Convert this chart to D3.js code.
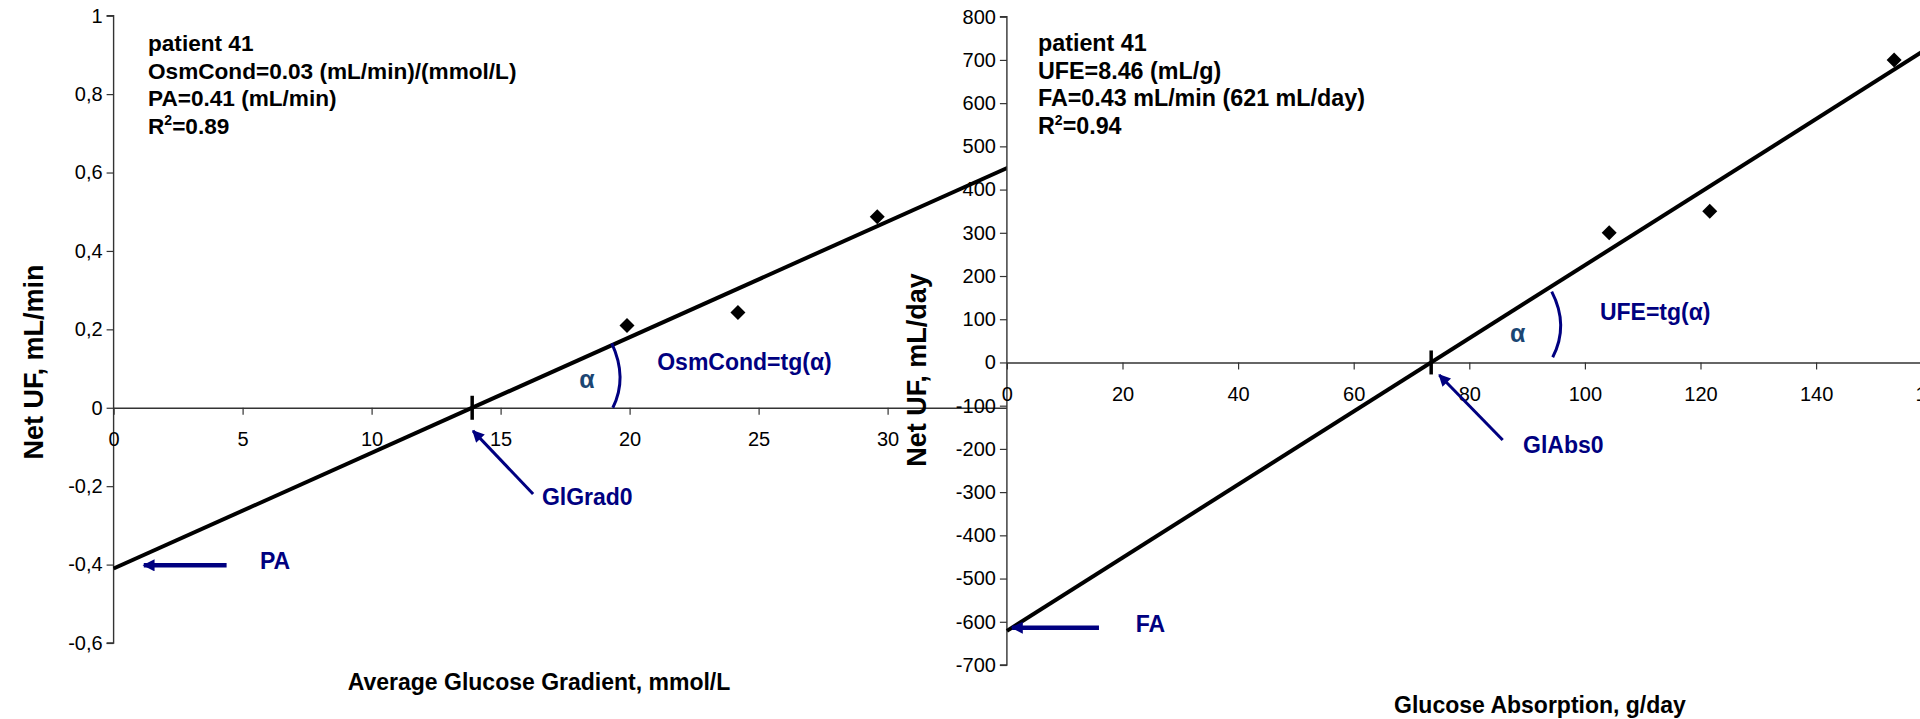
<!DOCTYPE html>
<html>
<head>
<meta charset="utf-8">
<script src="https://cdn.jsdelivr.net/npm/d3@7"></script>
<style>
  body { margin: 0; background: #fff; }
  svg text { font-family: "Liberation Sans", Arial, sans-serif; }
</style>
</head>
<body>
<svg id="chart" width="1920" height="719"></svg>
<script>
// left panel: net UF vs average glucose gradient
const gradX = [19.9, 24.2, 29.6];
const gradUF = [0.21, 0.243, 0.487];
const gradTicksX = [0, 5, 10, 15, 20, 25, 30, 35];
const gradTicksY = [-0.6, -0.4, -0.2, 0, 0.2, 0.4, 0.6, 0.8, 1];
const gradSlope = 0.0295;
const gradIntercept = -0.41;
const gradInfo = ['patient 41', 'OsmCond=0.03 (mL/min)/(mmol/L)', 'PA=0.41 (mL/min)', 'R2=0.89'];

// right panel: net UF vs glucose absorption
const absX = [104.2, 121.6, 153.5];
const absUF = [300, 350, 700];
const absTicksX = [0, 20, 40, 60, 80, 100, 120, 140, 160];
const absTicksY = [-700, -600, -500, -400, -300, -200, -100, 0, 100, 200, 300, 400, 500, 600, 700, 800];
const absSlope = 8.46;
const absIntercept = -621;
const absInfo = ['patient 41', 'UFE=8.46 (mL/g)', 'FA=0.43 mL/min (621 mL/day)', 'R2=0.94'];

const navy = '#000080';
const svg = d3.select('#chart');

const defs = svg.append('defs');
defs.append('marker')
  .attr('id', 'head')
  .attr('viewBox', '0 0 10 10')
  .attr('refX', 9).attr('refY', 5)
  .attr('markerWidth', 13).attr('markerHeight', 12)
  .attr('markerUnits', 'userSpaceOnUse')
  .attr('orient', 'auto')
  .append('path')
  .attr('d', 'M0,0L10,5L0,10Z')
  .attr('fill', navy);

function diamond(s) {
  return `M0,${-s}L${s},0L0,${s}L${-s},0Z`;
}

function drawPanel(p) {
  const g = svg.append('g');
  const x = d3.scaleLinear().domain(p.xDomain).range(p.xRange);
  const y = d3.scaleLinear().domain(p.yDomain).range(p.yRange);

  if (p.cover) {
    g.append('rect')
      .attr('x', x(0)).attr('y', 0)
      .attr('width', 1920 - x(0)).attr('height', 719)
      .attr('fill', '#fff');
  }

  // y axis
  const yAxis = g.append('g')
    .attr('transform', `translate(${x(0)},0)`)
    .call(d3.axisLeft(y).tickValues(p.yTicks).tickSize(7).tickPadding(4).tickFormat(p.fmtY));
  // x axis through zero
  const xAxis = g.append('g')
    .attr('transform', `translate(0,${y(0)})`)
    .call(d3.axisBottom(x).tickValues(p.xTicks).tickSize(7).tickPadding(17).tickSizeOuter(0));
  [yAxis, xAxis].forEach(a => {
    a.select('.domain').attr('stroke', '#333').attr('stroke-width', 1.4);
    a.selectAll('.tick line').attr('stroke', '#333').attr('stroke-width', 1.2);
    a.selectAll('text').attr('font-size', 20).attr('fill', '#000')
      .attr('font-family', '"Liberation Sans", Arial, sans-serif');
  });
  yAxis.select('.domain').attr('d', `M-7,${y(p.yDomain[1])}H0V${y(p.yDomain[0])}H-7`);

  // regression line
  const fitLine = d3.line().x(d => x(d)).y(d => y(p.slope * d + p.intercept));
  g.append('path')
    .attr('d', fitLine([0, p.xDomain[1]]))
    .attr('fill', 'none').attr('stroke', '#000').attr('stroke-width', 4);

  // zero crossing mark
  const x0 = -p.intercept / p.slope;
  g.append('line')
    .attr('x1', x(x0)).attr('x2', x(x0))
    .attr('y1', y(0) - 12).attr('y2', y(0) + 12)
    .attr('stroke', '#000').attr('stroke-width', 3.5);

  // data points
  g.selectAll('path.pt')
    .data(p.xs.map((v, i) => [v, p.ys[i]]))
    .join('path')
    .attr('class', 'pt')
    .attr('transform', d => `translate(${x(d[0])},${y(d[1])})`)
    .attr('d', diamond(7.5))
    .attr('fill', '#000');

  // angle arc
  const a = p.arc.map(d => [x(d[0]), y(d[1])]);
  const c = [2 * a[1][0] - (a[0][0] + a[2][0]) / 2, 2 * a[1][1] - (a[0][1] + a[2][1]) / 2];
  g.append('path')
    .attr('d', `M${a[0]}Q${c} ${a[2]}`)
    .attr('fill', 'none').attr('stroke', navy).attr('stroke-width', 3);

  g.append('text')
    .attr('x', x(p.alphaAt[0])).attr('y', y(p.alphaAt[1]))
    .attr('font-size', 25).attr('font-weight', 'bold').attr('fill', '#1b4673')
    .text('α');

  // arrows
  p.arrows.forEach(ar => {
    g.append('line')
      .attr('x1', x(ar.from[0])).attr('y1', y(ar.from[1]))
      .attr('x2', x(ar.to[0])).attr('y2', y(ar.to[1]))
      .attr('stroke', navy).attr('stroke-width', ar.w)
      .attr('marker-end', 'url(#head)');
  });

  // blue labels
  p.labels.forEach(l => {
    g.append('text')
      .attr('x', x(l.at[0])).attr('y', y(l.at[1]))
      .attr('font-size', 23).attr('font-weight', 'bold').attr('fill', navy)
      .text(l.text);
  });

  // info block
  p.info.forEach((line, i) => {
    const t = g.append('text')
      .attr('x', p.infoX).attr('y', 51 + i * 27.5)
      .attr('font-size', p.infoSize).attr('font-weight', 'bold').attr('fill', '#000');
    if (line.startsWith('R2')) {
      t.append('tspan').text('R');
      t.append('tspan').attr('font-size', 14).attr('dy', -9).text('2');
      t.append('tspan').attr('dy', 9).text(line.slice(2));
    } else {
      t.text(line);
    }
  });

  // axis titles
  g.append('text')
    .attr('transform', `translate(${p.yTitleAt[0]},${p.yTitleAt[1]}) rotate(-90)`)
    .attr('text-anchor', 'middle')
    .attr('font-size', 27).attr('font-weight', 'bold')
    .text(p.yTitle);
  g.append('text')
    .attr('x', p.xTitleAt[0]).attr('y', p.xTitleAt[1])
    .attr('text-anchor', 'middle')
    .attr('font-size', 23).attr('font-weight', 'bold')
    .text(p.xTitle);
}

const commaFmt = v => String(Math.round(v * 10) / 10).replace('.', ',');

drawPanel({
  xs: gradX, ys: gradUF,
  xDomain: [0, 35], xRange: [113.6, 1016.6],
  yDomain: [-0.6, 1], yRange: [643, 15.7],
  xTicks: gradTicksX, yTicks: gradTicksY, fmtY: commaFmt,
  slope: gradSlope, intercept: gradIntercept,
  arc: [[19.31, 0.164], [19.63, 0.079], [19.35, 0]],
  alphaAt: [18.05, 0.05],
  arrows: [
    { from: [16.26, -0.22], to: [13.93, -0.059], w: 3 },
    { from: [4.38, -0.402], to: [1.17, -0.402], w: 4.5 }
  ],
  labels: [
    { text: 'OsmCond=tg(α)', at: [21.07, 0.096] },
    { text: 'GlGrad0', at: [16.6, -0.248] },
    { text: 'PA', at: [5.67, -0.411] }
  ],
  info: gradInfo, infoX: 148, infoSize: 22.6,
  yTitle: 'Net UF, mL/min', yTitleAt: [43, 362],
  xTitle: 'Average Glucose Gradient, mmol/L', xTitleAt: [539, 690]
});

drawPanel({
  cover: true,
  xs: absX, ys: absUF,
  xDomain: [0, 160], xRange: [1006.9, 1931.7],
  yDomain: [-700, 800], yRange: [665, 16.7],
  xTicks: absTicksX, yTicks: absTicksY, fmtY: v => String(v),
  slope: absSlope, intercept: absIntercept,
  arc: [[94.26, 163.8], [95.81, 86.8], [94.43, 12]],
  alphaAt: [87.03, 47.4],
  arrows: [
    { from: [85.78, -179.3], to: [74.8, -28.9], w: 3 },
    { from: [15.93, -613.6], to: [0.88, -613.6], w: 4.5 }
  ],
  labels: [
    { text: 'UFE=tg(α)', at: [102.6, 98.3] },
    { text: 'GlAbs0', at: [89.3, -209.4] },
    { text: 'FA', at: [22.3, -622.9] }
  ],
  info: absInfo, infoX: 1038, infoSize: 23.3,
  yTitle: 'Net UF, mL/day', yTitleAt: [926, 370],
  xTitle: 'Glucose Absorption, g/day', xTitleAt: [1540, 713]
});
</script>
</body>
</html>
